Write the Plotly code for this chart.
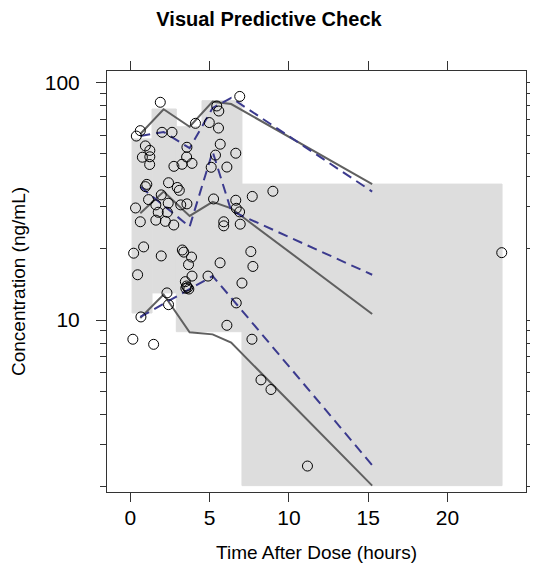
import plotly.graph_objects as go

# ---- observed data (time in h, concentration in ng/mL) ----
obs_time = [1.89, 6.90, 0.63, 0.38, 2.00, 2.63, 4.11, 4.98, 5.56, 5.45, 5.58,
            0.95, 1.23, 0.76, 1.23, 1.22, 3.57, 3.55, 2.75, 3.26, 3.89, 5.67,
            5.37, 6.65, 5.10, 6.09, 1.04, 0.95, 2.41, 2.96, 3.09, 1.95, 1.15,
            0.33, 1.61, 2.39, 3.18, 3.57, 1.76, 2.33, 5.25, 6.65, 7.69, 8.99,
            0.63, 1.61, 2.21, 2.74, 6.68, 6.89, 5.89, 5.89, 6.93, 0.21, 0.84,
            1.95, 3.28, 3.37, 3.86, 3.67, 5.66, 7.60, 7.73, 0.46, 3.89, 3.47,
            3.50, 3.62, 3.55, 3.69, 4.90, 7.04, 2.31, 2.41, 0.67, 6.68, 6.09,
            7.67, 0.16, 1.47, 8.24, 8.87, 11.17, 23.42]
obs_conc = [82.4, 87.2, 62.6, 59.4, 61.6, 61.6, 67.2, 67.7, 64.2, 79.5, 75.7,
            54.0, 51.7, 48.4, 48.6, 45.1, 53.3, 48.5, 44.3, 45.2, 45.6, 54.9,
            49.4, 50.3, 43.9, 44.0, 37.2, 36.4, 37.8, 36.1, 35.1, 33.6, 32.1,
            29.6, 30.5, 31.0, 30.5, 30.8, 28.4, 28.4, 32.3, 31.9, 33.1, 34.8,
            25.9, 26.3, 26.0, 25.1, 29.5, 28.5, 25.9, 24.9, 25.3, 19.1, 20.3,
            18.6, 19.7, 19.3, 18.4, 17.1, 17.4, 19.4, 16.8, 15.5, 15.3, 14.5,
            13.6, 13.7, 13.9, 13.5, 15.3, 14.3, 13.0, 11.6, 10.3, 11.8, 9.5,
            8.3, 8.3, 7.9, 5.6, 5.1, 2.43, 19.2]

# ---- bins: shaded prediction-interval areas ----
bin_edges = [0.11, 1.37, 2.90, 4.52, 7.04, 23.44]
bin_low = [10.7, 13.0, 8.93, 8.93, 2.01]
bin_high = [57.8, 77.2, 65.0, 83.7, 37.3]

# ---- percentile lines at bin times ----
bin_time = [0.63, 2.10, 3.74, 5.19, 6.36, 15.25]
obs_p95 = [60.6, 77.0, 65.0, 82.9, 81.0, 37.3]
obs_p50 = [28.1, 34.7, 27.4, 31.4, 29.5, 10.6]
obs_p05 = [10.2, 12.8, 8.88, 8.70, 8.03, 2.01]
sim_p95 = [59.4, 61.8, 52.8, 78.0, 86.0, 34.7]
sim_p50 = [36.4, 30.4, 24.7, 51.1, 28.8, 15.5]
sim_p05 = [10.3, 11.7, 13.4, 15.3, 12.4, 2.45]

FILL = "#dddddd"
OBS_LINE = "#606060"
SIM_LINE = "#3b3a8e"
AXIS = "#333333"
FONT = "Liberation Sans, Arial, sans-serif"

fig = go.Figure()

for i in range(len(bin_low)):
    x0, x1 = bin_edges[i], bin_edges[i + 1]
    lo, hi = bin_low[i], bin_high[i]
    fig.add_trace(go.Scatter(
        x=[x0, x1, x1, x0, x0], y=[lo, lo, hi, hi, lo],
        mode="lines", fill="toself", fillcolor=FILL,
        line=dict(width=1, color=FILL), hoverinfo="skip", showlegend=False))

for ys in (obs_p95, obs_p50, obs_p05):
    fig.add_trace(go.Scatter(x=bin_time, y=ys, mode="lines",
                             line=dict(color=OBS_LINE, width=2),
                             showlegend=False))
for ys in (sim_p95, sim_p50, sim_p05):
    fig.add_trace(go.Scatter(x=bin_time, y=ys, mode="lines",
                             line=dict(color=SIM_LINE, width=2, dash="10px,6px"),
                             showlegend=False))

fig.add_trace(go.Scatter(
    x=obs_time, y=obs_conc, mode="markers",
    marker=dict(symbol="circle-open", size=10, color="black",
                line=dict(width=1, color="black")),
    showlegend=False))

minor_vals = [2, 3, 4, 5, 6, 7, 8, 9, 20, 30, 40, 50, 60, 70, 80, 90]

# the page body adds an 8px margin, so the figure is sized 8px smaller
fig.update_layout(
    width=530, height=559,
    margin=dict(l=99, r=12, t=63, b=75, autoexpand=False),
    paper_bgcolor="white", plot_bgcolor="white",
    font=dict(family=FONT, color="black"),
    title=dict(text="<b>Visual Predictive Check</b>",
               font=dict(size=20, family=FONT, color="black"),
               x=261 / 530, xref="container", xanchor="center",
               y=1 - 10.5 / 559, yref="container", yanchor="middle"),
    xaxis=dict(
        range=[-1.47, 24.95], tickmode="array", automargin=False,
        tickvals=[0, 5, 10, 15, 20], ticktext=["0", "5", "10", "15", "20"],
        ticks="outside", ticklen=9, tickwidth=1, tickcolor=AXIS,
        showline=True, linecolor=AXIS, linewidth=1, mirror="allticks",
        showgrid=False, zeroline=False,
        tickfont=dict(size=21, family=FONT, color="black"),
        ticklabelstandoff=-2,
        title=dict(text="Time After Dose (hours)",
                   font=dict(size=19, family=FONT, color="black"),
                   standoff=17)),
    yaxis=dict(
        type="log", range=[0.2764, 2.0475], tickmode="array", automargin=False,
        tickvals=[10, 100], ticktext=["10", "100"],
        ticks="outside", ticklen=10, tickwidth=1, tickcolor=AXIS,
        minor=dict(tickmode="array", tickvals=minor_vals, ticks="outside",
                   ticklen=6, tickwidth=1, tickcolor=AXIS, showgrid=False),
        showline=True, linecolor=AXIS, linewidth=1, mirror="allticks",
        showgrid=False, zeroline=False,
        tickfont=dict(size=21, family=FONT, color="black"),
        ticklabelstandoff=12,
        title=dict(text="Concentration (ng/mL)",
                   font=dict(size=19, family=FONT, color="black"))),
)

fig.write_html("out.html")
